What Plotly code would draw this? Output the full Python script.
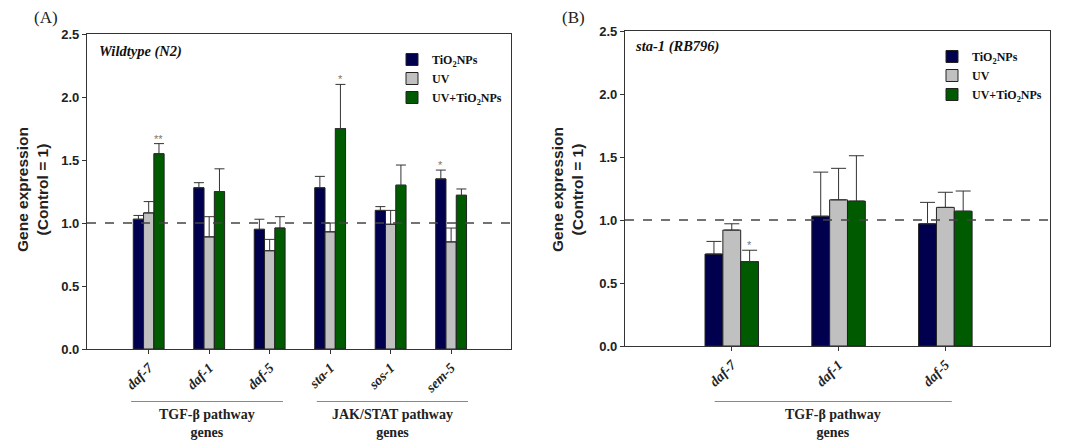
import plotly.graph_objects as go

SERIF = "Liberation Serif"
SANS = "Liberation Sans"

# ---------------- data ----------------
genes_a = ["daf-7", "daf-1", "daf-5", "sta-1", "sos-1", "sem-5"]
tio2_a = [1.03, 1.28, 0.95, 1.28, 1.10, 1.35]
tio2_a_err = [0.03, 0.04, 0.08, 0.09, 0.03, 0.07]
uv_a = [1.08, 0.89, 0.78, 0.93, 0.99, 0.85]
uv_a_err = [0.09, 0.16, 0.09, 0.07, 0.11, 0.11]
uvtio2_a = [1.55, 1.25, 0.96, 1.75, 1.30, 1.22]
uvtio2_a_err = [0.08, 0.18, 0.09, 0.35, 0.16, 0.05]

genes_b = ["daf-7", "daf-1", "daf-5"]
tio2_b = [0.73, 1.03, 0.97]
tio2_b_err = [0.10, 0.35, 0.17]
uv_b = [0.92, 1.16, 1.10]
uv_b_err = [0.05, 0.25, 0.12]
uvtio2_b = [0.67, 1.15, 1.07]
uvtio2_b_err = [0.09, 0.36, 0.16]

series_names = ["TiO<sub>2</sub>NPs", "UV", "UV+TiO<sub>2</sub>NPs"]
colors = ["#00004f", "#c0c0c0", "#005a00"]

# significance marks: (series index, gene index, label)
sig_a = [(2, 0, "**"), (2, 3, "*"), (0, 5, "*")]
sig_b = [(2, 0, "*")]

y_ticks = [0.0, 0.5, 1.0, 1.5, 2.0, 2.5]

fig = go.Figure()

def add_panel(vals, errs, ncat, xa, ya, legend, bw, capw):
    offs = [-1.5 * bw, -0.5 * bw, 0.5 * bw]
    xs = list(range(ncat))
    for k in range(3):
        fig.add_trace(go.Bar(
            x=xs, y=vals[k], width=bw, offset=offs[k],
            name=series_names[k], marker=dict(color=colors[k], line=dict(color="#222", width=1)),
            error_y=dict(type="data", symmetric=False, array=errs[k], arrayminus=[0] * ncat,
                         color="#333", thickness=1, width=capw),
            xaxis=xa, yaxis=ya, legend=legend, showlegend=True,
        ))
    return offs

bw_a = 0.17
bw_b = 0.167
offs_a = add_panel([tio2_a, uv_a, uvtio2_a], [tio2_a_err, uv_a_err, uvtio2_a_err], 6, "x", "y", "legend", bw_a, 5)
offs_b = add_panel([tio2_b, uv_b, uvtio2_b], [tio2_b_err, uv_b_err, uvtio2_b_err], 3, "x2", "y2", "legend2", bw_b, 7.5)

ann = []
def sig(marks, vals, errs, offs, bw, xref, yref):
    for s, g, lab in marks:
        ann.append(dict(x=g + offs[s] + bw / 2, y=vals[s][g] + errs[s][g], xref=xref, yref=yref,
                        text=lab, showarrow=False, yanchor="bottom", yshift=-3,
                        font=dict(family=SANS, size=11, color="#777")))

sig(sig_a, [tio2_a, uv_a, uvtio2_a], [tio2_a_err, uv_a_err, uvtio2_a_err], offs_a, bw_a, "x", "y")
sig(sig_b, [tio2_b, uv_b, uvtio2_b], [tio2_b_err, uv_b_err, uvtio2_b_err], offs_b, bw_b, "x2", "y2")

axis_common = dict(showline=True, mirror=True, linecolor="#333", linewidth=1.3,
                   ticks="outside", ticklen=4, tickcolor="#333", showgrid=False, zeroline=False)

ytick_font = dict(family=SANS, size=13, color="#222", weight="bold")
xtick_font = dict(family=SERIF, size=14, color="#222", weight="bold", style="italic")
legend_font = dict(family=SERIF, size=12, color="#111", weight="bold")

fig.update_layout(
    width=1065, height=441,
    margin=dict(l=0, r=0, t=0, b=0, autoexpand=False),
    paper_bgcolor="white", plot_bgcolor="white",
    barmode="overlay",
    xaxis=dict(domain=[87 / 1065, 511 / 1065], range=[-1.02, 5.99], tickvals=list(range(6)),
               ticktext=genes_a, tickangle=-45, tickfont=xtick_font, anchor="y", **axis_common),
    yaxis=dict(domain=[1 - 349 / 441, 1 - 34 / 441], range=[0, 2.5], tickvals=y_ticks,
               ticktext=[f"{v:.1f}" for v in y_ticks], tickfont=ytick_font, anchor="x", **axis_common),
    xaxis2=dict(domain=[625 / 1065, 1050 / 1065], range=[-1.0, 2.98], tickvals=list(range(3)),
                ticktext=genes_b, tickangle=-45, tickfont=xtick_font, anchor="y2", **axis_common),
    yaxis2=dict(domain=[1 - 346 / 441, 1 - 31 / 441], range=[0, 2.5], tickvals=y_ticks,
                ticktext=[f"{v:.1f}" for v in y_ticks], tickfont=ytick_font, anchor="x2", **axis_common),
    legend=dict(x=392 / 1065, y=1 - 45 / 441, xanchor="left", yanchor="top", font=legend_font,
                bgcolor="rgba(0,0,0,0)", itemwidth=30, tracegroupgap=0),
    legend2=dict(x=932 / 1065, y=1 - 42 / 441, xanchor="left", yanchor="top", font=legend_font,
                 bgcolor="rgba(0,0,0,0)", itemwidth=30, tracegroupgap=0),
)

shapes = [
    dict(type="line", xref="x domain", yref="y", x0=0, x1=1, y0=1, y1=1,
         line=dict(color="#444", width=1.5, dash="dash")),
    dict(type="line", xref="x2 domain", yref="y2", x0=0, x1=1, y0=1, y1=1,
         line=dict(color="#444", width=1.5, dash="dash")),
]

groups = [
    ("x", -0.29, 2.22, "TGF-β pathway"),
    ("x", 2.78, 5.28, "JAK/STAT pathway"),
    ("x2", -0.16, 2.06, "TGF-β pathway"),
]
for xr, a, b, lab in groups:
    shapes.append(dict(type="line", xref=xr, yref="paper", x0=a, x1=b,
                       y0=1 - 401.5 / 441, y1=1 - 401.5 / 441, line=dict(color="#888", width=1)))
    ann.append(dict(x=(a + b) / 2, y=1 - 405 / 441, xref=xr, yref="paper", showarrow=False,
                    xanchor="center", yanchor="top", text=f"<b>{lab}</b><br><b>genes</b>",
                    font=dict(family=SERIF, size=14, color="#222")))

# y axis titles
for xc in [33 / 1065, 568 / 1065]:
    ann.append(dict(x=xc, y=1 - 190 / 441, xref="paper", yref="paper", showarrow=False,
                    textangle=-90, xanchor="center", yanchor="middle",
                    text="<b>Gene expression</b><br><b>(Control = 1)</b>",
                    font=dict(family=SANS, size=15.5, color="#222")))

ann += [
    dict(x=46 / 1065, y=1 - 17 / 441, xref="paper", yref="paper", showarrow=False, text="(A)",
         xanchor="center", yanchor="middle", font=dict(family=SERIF, size=17, color="#222")),
    dict(x=573 / 1065, y=1 - 17 / 441, xref="paper", yref="paper", showarrow=False, text="(B)",
         xanchor="center", yanchor="middle", font=dict(family=SERIF, size=17, color="#222")),
    dict(x=97 / 1065, y=1 - 51 / 441, xref="paper", yref="paper", showarrow=False, xanchor="left",
         yanchor="middle", text="<b><i>Wildtype (N2)</i></b>", font=dict(family=SERIF, size=14.5, color="#111")),
    dict(x=633 / 1065, y=1 - 46 / 441, xref="paper", yref="paper", showarrow=False, xanchor="left",
         yanchor="middle", text="<b><i>sta-1 (RB796)</i></b>", font=dict(family=SERIF, size=14.5, color="#111")),
]

fig.update_layout(shapes=shapes, annotations=ann)
fig.write_html("out.html", post_script="document.body.style.margin='0';",
               config={"displayModeBar": False})
